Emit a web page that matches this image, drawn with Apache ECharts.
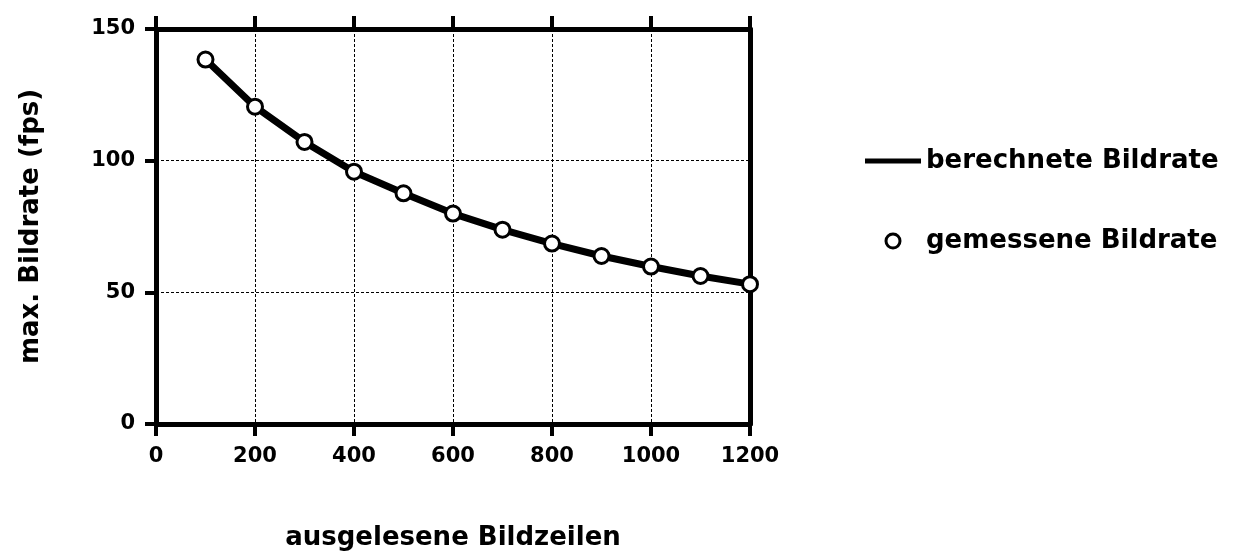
<!DOCTYPE html>
<html>
<head>
<meta charset="utf-8">
<style>
  html, body { margin: 0; padding: 0; background: #fff; }
  #chart { width: 1242px; height: 556px; }
</style>
<script src="https://cdn.jsdelivr.net/npm/echarts@6/dist/echarts.min.js"></script>
</head>
<body>
<div id="chart"></div>
<script>
// Read-out rows vs. frame rate
const rows = [100, 200, 300, 400, 500, 600, 700, 800, 900, 1000, 1100, 1200];
const computedFps = [138.4, 120.5, 107.1, 95.8, 87.6, 79.9, 73.8, 68.5, 63.8, 59.8, 56.2, 53.1];
const measuredFps = [138.4, 120.5, 107.1, 95.8, 87.6, 79.9, 73.8, 68.5, 63.8, 59.8, 56.2, 53.1];

const xTicks = [0, 200, 400, 600, 800, 1000, 1200];
const yTicks = [0, 50, 100, 150];

const seriesNames = ['berechnete Bildrate', 'gemessene Bildrate'];
const xTitle = 'ausgelesene Bildzeilen';
const yTitle = 'max. Bildrate (fps)';

const FONT = '"DejaVu Sans", "Liberation Sans", Arial, sans-serif';
const INK = '#000';

const chart = echarts.init(document.getElementById('chart'), null, { renderer: 'canvas' });

const axisLine = { show: true, onZero: false, lineStyle: { color: INK, width: 5 } };
const tickLabel = {
  color: INK, fontFamily: FONT, fontWeight: 'bold', fontSize: 21,
  formatter: (v) => String(v)
};
const gridLine = { show: true, lineStyle: { color: '#000', width: 1, type: [3, 2] } };

chart.setOption({
  animation: false,
  backgroundColor: '#fff',
  grid: { left: 156, top: 29, width: 594, height: 396, containLabel: false },
  legend: {
    orient: 'vertical',
    left: 860,
    top: 141,
    itemWidth: 56,
    itemHeight: 14,
    itemGap: 50,
    selectedMode: false,
    textStyle: { color: INK, fontFamily: FONT, fontWeight: 'bold', fontSize: 26, lineHeight: 30 },
    data: [
      {
        name: seriesNames[0],
        icon: 'path://M0,0H56V5H0Z',
        itemStyle: { color: INK, borderWidth: 0 }
      },
      {
        name: seriesNames[1],
        icon: 'circle',
        itemStyle: { color: '#fff', borderColor: INK, borderWidth: 3 }
      }
    ]
  },
  xAxis: [
    {
      type: 'value',
      position: 'bottom',
      min: xTicks[0],
      max: xTicks[xTicks.length - 1],
      interval: xTicks[1] - xTicks[0],
      name: xTitle,
      nameLocation: 'middle',
      nameGap: 101,
      nameTextStyle: { color: INK, fontFamily: FONT, fontWeight: 'bold', fontSize: 26 },
      axisLine: axisLine,
      axisTick: { show: true, inside: false, length: 12, lineStyle: { color: INK, width: 4 } },
      axisLabel: Object.assign({ margin: 22 }, tickLabel),
      splitLine: gridLine
    },
    {
      type: 'value',
      position: 'top',
      min: xTicks[0],
      max: xTicks[xTicks.length - 1],
      interval: xTicks[1] - xTicks[0],
      axisLine: axisLine,
      axisTick: { show: true, inside: false, length: 13, lineStyle: { color: INK, width: 4 } },
      axisLabel: { show: false },
      splitLine: { show: false }
    }
  ],
  yAxis: [
    {
      type: 'value',
      position: 'left',
      min: yTicks[0],
      max: yTicks[yTicks.length - 1],
      interval: yTicks[1] - yTicks[0],
      name: yTitle,
      nameLocation: 'middle',
      nameGap: 112,
      nameTextStyle: { color: INK, fontFamily: FONT, fontWeight: 'bold', fontSize: 26 },
      axisLine: axisLine,
      axisTick: { show: true, inside: false, length: 11, lineStyle: { color: INK, width: 4 } },
      axisLabel: Object.assign({ margin: 21 }, tickLabel),
      splitLine: gridLine
    },
    {
      type: 'value',
      position: 'right',
      min: yTicks[0],
      max: yTicks[yTicks.length - 1],
      interval: yTicks[1] - yTicks[0],
      axisLine: axisLine,
      axisTick: { show: false },
      axisLabel: { show: false },
      splitLine: { show: false }
    }
  ],
  series: [
    {
      name: seriesNames[0],
      type: 'line',
      xAxisIndex: 0,
      yAxisIndex: 0,
      data: rows.map((r, i) => [r, computedFps[i]]),
      symbol: 'none',
      smooth: false,
      lineStyle: { color: INK, width: 7, cap: 'round', join: 'round' },
      itemStyle: { color: INK },
      z: 3
    },
    {
      name: seriesNames[1],
      type: 'scatter',
      xAxisIndex: 0,
      yAxisIndex: 0,
      data: rows.map((r, i) => [r, measuredFps[i]]),
      symbol: 'circle',
      symbolSize: 15,
      itemStyle: { color: '#fff', borderColor: INK, borderWidth: 3, opacity: 1 },
      z: 4
    }
  ]
});
</script>
</body>
</html>
